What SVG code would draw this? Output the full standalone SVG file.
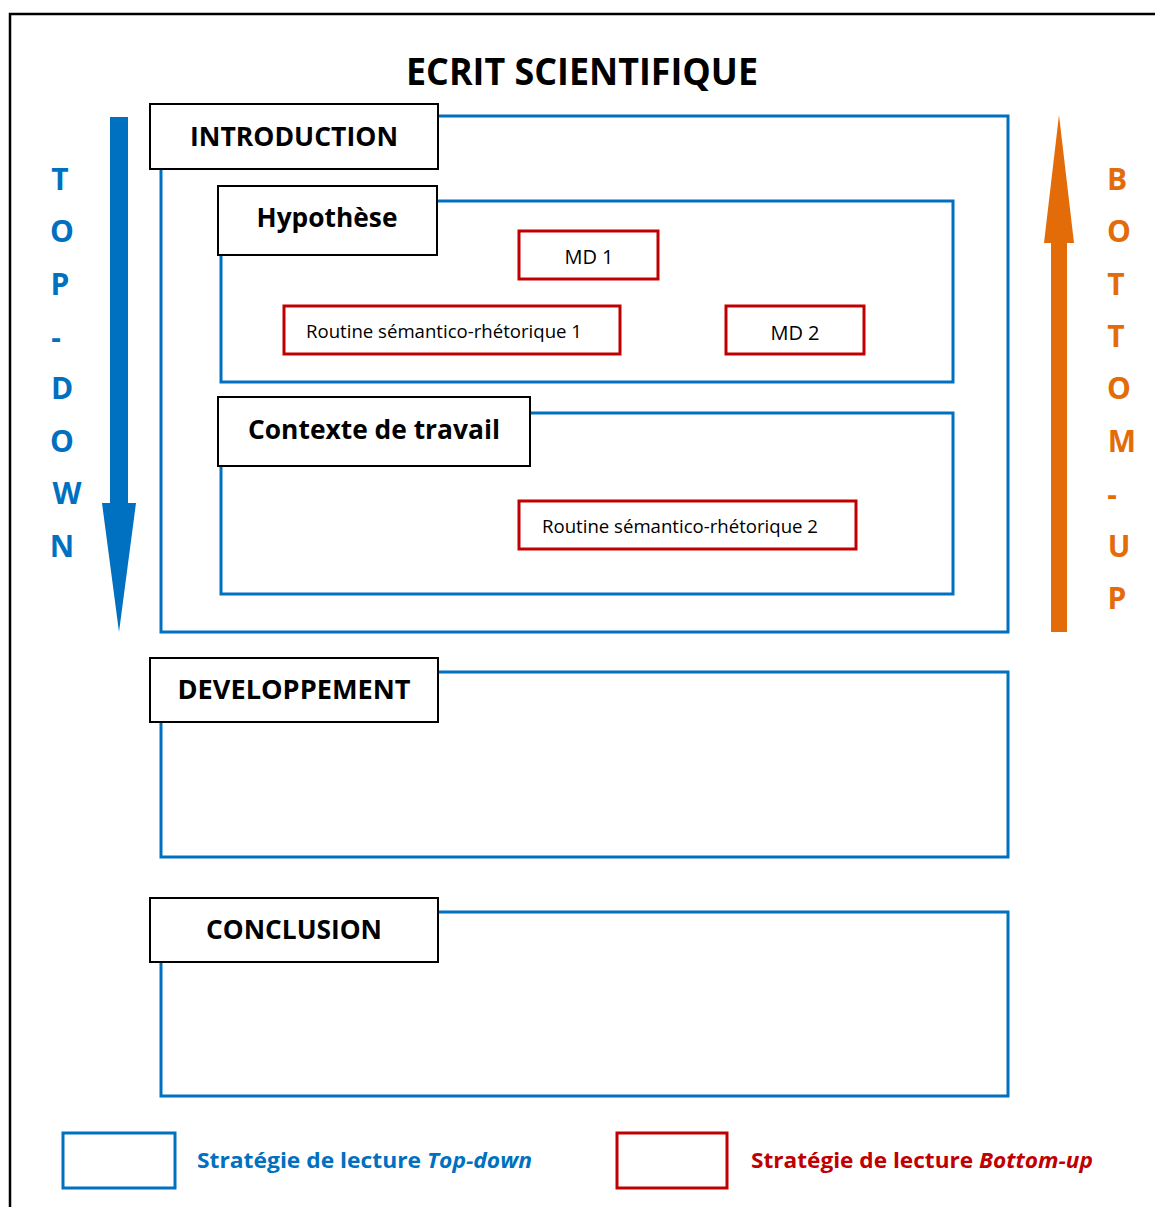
<svg xmlns="http://www.w3.org/2000/svg" width="1155" height="1207" viewBox="0 0 1155 1207">
<style>
text{font-family:"Open Sans","Liberation Sans",sans-serif}
.lbl{fill:#fff;stroke:#000;stroke-width:2}
.blue{fill:none;stroke:#0070C0;stroke-width:3}
.red{fill:#fff;stroke:#C00000;stroke-width:3}
.h{font-weight:bold;font-size:27px;fill:#000;text-anchor:middle}
.s{font-size:18px;fill:#000;text-anchor:middle}
.md{font-size:20px;fill:#000;text-anchor:middle}
.tl{font-weight:bold;font-size:30px;fill:#0070C0;text-anchor:middle}
.bl{font-weight:bold;font-size:30px;fill:#E36C09;text-anchor:middle}
</style>
<rect width="1155" height="1207" fill="#fff"/>
<path d="M10 1207 V14 H1155" fill="none" stroke="#000" stroke-width="2.5"/>
<text x="582" y="85" font-weight="bold" font-size="37" text-anchor="middle" textLength="352" lengthAdjust="spacingAndGlyphs">ECRIT SCIENTIFIQUE</text>
<g id="arrows">
<path id="topdown-arrow" d="M110 117 H128 V503 H136 L119 632 L102 503 H110 Z" fill="#0070C0"/>
<path id="bottomup-arrow" d="M1051 632 V243 H1044 L1059 115 L1074 243 H1067 V632 Z" fill="#E36C09"/>
</g>
<g id="topdown-letters">
<text class="tl" x="60" y="190">T</text>
<text class="tl" x="62" y="242">O</text>
<text class="tl" x="60" y="295">P</text>
<text class="tl" x="56" y="348">-</text>
<text class="tl" x="62" y="399">D</text>
<text class="tl" x="62" y="452">O</text>
<text class="tl" x="67" y="504">W</text>
<text class="tl" x="62" y="557">N</text>
</g>
<g id="bottomup-letters">
<text class="bl" x="1117" y="190">B</text>
<text class="bl" x="1119" y="242">O</text>
<text class="bl" x="1116" y="295">T</text>
<text class="bl" x="1116" y="347">T</text>
<text class="bl" x="1119" y="399">O</text>
<text class="bl" x="1122" y="452">M</text>
<text class="bl" x="1112" y="505">-</text>
<text class="bl" x="1119" y="557">U</text>
<text class="bl" x="1117" y="609">P</text>
</g>
<g id="introduction">
<rect class="blue" x="161" y="116" width="847" height="516"/>
<rect class="lbl" x="150" y="104" width="288" height="65"/>
<text class="h" x="294" y="146" textLength="208" lengthAdjust="spacingAndGlyphs">INTRODUCTION</text>
</g>
<g id="hypothese">
<rect class="blue" x="221" y="201" width="732" height="181"/>
<rect class="lbl" x="218" y="186" width="219" height="69"/>
<text class="h" x="327" y="227" textLength="141" lengthAdjust="spacingAndGlyphs">Hypothèse</text>
</g>
<g id="md1">
<rect class="red" x="519" y="231" width="139" height="48"/>
<text class="md" x="589" y="264">MD 1</text>
</g>
<g id="routine1">
<rect class="red" x="284" y="306" width="336" height="48"/>
<text class="s" x="444" y="338" textLength="276" lengthAdjust="spacingAndGlyphs">Routine sémantico-rhétorique 1</text>
</g>
<g id="md2">
<rect class="red" x="726" y="306" width="138" height="48"/>
<text class="md" x="795" y="340">MD 2</text>
</g>
<g id="contexte">
<rect class="blue" x="221" y="413" width="732" height="181"/>
<rect class="lbl" x="218" y="397" width="312" height="69"/>
<text class="h" x="374" y="439" textLength="252" lengthAdjust="spacingAndGlyphs">Contexte de travail</text>
</g>
<g id="routine2">
<rect class="red" x="519" y="501" width="337" height="48"/>
<text class="s" x="680" y="533" textLength="276" lengthAdjust="spacingAndGlyphs">Routine sémantico-rhétorique 2</text>
</g>
<g id="developpement">
<rect class="blue" x="161" y="672" width="847" height="185"/>
<rect class="lbl" x="150" y="658" width="288" height="64"/>
<text class="h" x="294" y="699" textLength="233" lengthAdjust="spacingAndGlyphs">DEVELOPPEMENT</text>
</g>
<g id="conclusion">
<rect class="blue" x="161" y="912" width="847" height="184"/>
<rect class="lbl" x="150" y="898" width="288" height="64"/>
<text class="h" x="294" y="939" textLength="176" lengthAdjust="spacingAndGlyphs">CONCLUSION</text>
</g>
<g id="legend">
<rect class="blue" x="63" y="1133" width="112" height="55"/>
<text x="197" y="1168" font-weight="bold" font-size="22" fill="#0070C0" textLength="335" lengthAdjust="spacingAndGlyphs">Stratégie de lecture <tspan font-style="italic">Top-down</tspan></text>
<rect class="red" x="617" y="1133" width="110" height="55"/>
<text x="751" y="1168" font-weight="bold" font-size="22" fill="#C00000" textLength="342" lengthAdjust="spacingAndGlyphs">Stratégie de lecture <tspan font-style="italic">Bottom-up</tspan></text>
</g>
</svg>
